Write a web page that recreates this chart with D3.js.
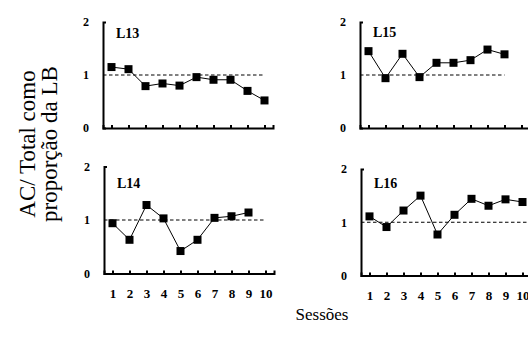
<!DOCTYPE html>
<html>
<head>
<meta charset="utf-8">
<script src="https://cdn.jsdelivr.net/npm/d3@7"></script>
<style>
  body { margin: 0; background: #fff; }
  svg { display: block; font-family: "Liberation Serif", "Times New Roman", serif; }
  .axis path, .axis line { stroke: #000; stroke-width: 2; fill: none; }
  .axis text { font-weight: bold; font-size: 13px; fill: #000; font-family: "Liberation Serif", "Times New Roman", serif; }
</style>
</head>
<body>
<div id="graph"></div>
<script>
var sessions = [1, 2, 3, 4, 5, 6, 7, 8, 9, 10];
var yTicks = [0, 1, 2];
var panelNames = ["L13", "L15", "L14", "L16"];

var L13 = [1.15, 1.11, 0.79, 0.84, 0.80, 0.96, 0.91, 0.91, 0.70, 0.52];
var L15 = [1.45, 0.94, 1.40, 0.96, 1.23, 1.23, 1.28, 1.48, 1.39];
var L14 = [0.94, 0.63, 1.28, 1.03, 0.42, 0.63, 1.04, 1.07, 1.14];
var L16 = [1.11, 0.91, 1.22, 1.50, 0.77, 1.14, 1.44, 1.31, 1.43, 1.38];

var series = [L13, L15, L14, L16];
var reference = 1;

// panel boxes in pixels (layout only)
var layout = [
  { x0: 103, x1: 273, y0: 128, y1: 22, labelDy: 16, xLabels: false, refEnd: 10 },
  { x0: 360, x1: 530, y0: 128, y1: 22, labelDy: 15, xLabels: false, refEnd: 9 },
  { x0: 104, x1: 274, y0: 273.5, y1: 166.5, labelDy: 21, xLabels: true, refEnd: 10 },
  { x0: 361, x1: 531, y0: 275.5, y1: 169, labelDy: 19, xLabels: true, refEnd: 10.6 }
];

var W = 528, H = 347;
var svg = d3.select("#graph").append("svg").attr("width", W).attr("height", H);

layout.forEach(function (p, i) {
  var x = d3.scaleLinear().domain([0.5, 10.5]).range([p.x0, p.x1]);
  var y = d3.scaleLinear().domain([0, 2]).range([p.y0, p.y1]);
  var g = svg.append("g");

  // reference line at 1
  g.append("line")
    .attr("x1", x(0.5)).attr("x2", x(p.refEnd))
    .attr("y1", y(reference)).attr("y2", y(reference))
    .attr("stroke", "#000").attr("stroke-width", 1)
    .attr("stroke-dasharray", "3.5,2.5");

  var xAxis = d3.axisBottom(x).tickValues(sessions)
    .tickSizeInner(-3).tickSizeOuter(-3).tickPadding(15);
  var gx = g.append("g").attr("class", "axis")
    .attr("transform", "translate(0," + p.y0 + ")").call(xAxis);
  gx.selectAll(".tick line").attr("stroke-width", 1.2);
  if (!p.xLabels) gx.selectAll("text").remove();

  var yAxis = d3.axisLeft(y).tickValues(yTicks).tickFormat(d3.format("d"))
    .tickSizeInner(-3).tickSizeOuter(-3).tickPadding(14);
  var gy = g.append("g").attr("class", "axis")
    .attr("transform", "translate(" + p.x0 + ",0)").call(yAxis);
  gy.selectAll(".tick line").remove();
  gy.selectAll("text").style("font-size", "12px");

  var data = series[i].map(function (v, j) { return { s: sessions[j], v: v }; });

  g.append("path")
    .attr("d", d3.line().x(function (d) { return x(d.s); }).y(function (d) { return y(d.v); })(data))
    .attr("fill", "none").attr("stroke", "#000").attr("stroke-width", 1);

  g.selectAll("rect.pt").data(data).join("rect")
    .attr("class", "pt")
    .attr("x", function (d) { return x(d.s) - 4; })
    .attr("y", function (d) { return y(d.v) - 4; })
    .attr("width", 8).attr("height", 8)
    .attr("fill", "#000");

  g.append("text")
    .attr("x", p.x0 + 13).attr("y", p.y1 + p.labelDy)
    .attr("font-size", 14).attr("font-weight", "bold")
    .text(panelNames[i]);
});

svg.append("text")
  .attr("transform", "translate(35,144) rotate(-90)")
  .attr("text-anchor", "middle").attr("font-size", 23)
  .text("AC/ Total como");
svg.append("text")
  .attr("transform", "translate(57,144) rotate(-90)")
  .attr("text-anchor", "middle").attr("font-size", 23)
  .text("proporção da LB");

svg.append("text")
  .attr("x", 322).attr("y", 320)
  .attr("text-anchor", "middle").attr("font-size", 17)
  .text("Sessões");
</script>
</body>
</html>
